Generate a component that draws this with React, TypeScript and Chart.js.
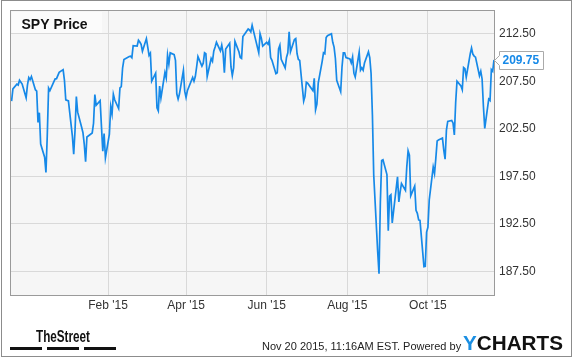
import React, { useEffect, useRef } from "react";
import { Chart, registerables } from "chart.js";

Chart.register(...registerables);

// ---- data ----
const dates = [
  "2014-11-20","2014-11-21","2014-11-24","2014-11-25","2014-11-26","2014-11-28",
  "2014-12-01","2014-12-02","2014-12-03","2014-12-04","2014-12-05","2014-12-08","2014-12-09","2014-12-10","2014-12-11","2014-12-12","2014-12-15","2014-12-16","2014-12-17","2014-12-18","2014-12-19","2014-12-22","2014-12-23","2014-12-24","2014-12-26","2014-12-29","2014-12-30","2014-12-31",
  "2015-01-02","2015-01-05","2015-01-06","2015-01-07","2015-01-08","2015-01-09","2015-01-12","2015-01-13","2015-01-14","2015-01-15","2015-01-16","2015-01-20","2015-01-21","2015-01-22","2015-01-23","2015-01-26","2015-01-27","2015-01-28","2015-01-29","2015-01-30",
  "2015-02-02","2015-02-03","2015-02-04","2015-02-05","2015-02-06","2015-02-09","2015-02-10","2015-02-11","2015-02-12","2015-02-13","2015-02-17","2015-02-18","2015-02-19","2015-02-20","2015-02-23","2015-02-24","2015-02-25","2015-02-26","2015-02-27",
  "2015-03-02","2015-03-03","2015-03-04","2015-03-05","2015-03-06","2015-03-09","2015-03-10","2015-03-11","2015-03-12","2015-03-13","2015-03-16","2015-03-17","2015-03-18","2015-03-19","2015-03-20","2015-03-23","2015-03-24","2015-03-25","2015-03-26","2015-03-27","2015-03-30","2015-03-31",
  "2015-04-01","2015-04-02","2015-04-06","2015-04-07","2015-04-08","2015-04-09","2015-04-10","2015-04-13","2015-04-14","2015-04-15","2015-04-16","2015-04-17","2015-04-20","2015-04-21","2015-04-22","2015-04-23","2015-04-24","2015-04-27","2015-04-28","2015-04-29","2015-04-30",
  "2015-05-01","2015-05-04","2015-05-05","2015-05-06","2015-05-07","2015-05-08","2015-05-11","2015-05-12","2015-05-13","2015-05-14","2015-05-15","2015-05-18","2015-05-19","2015-05-20","2015-05-21","2015-05-22","2015-05-26","2015-05-27","2015-05-28","2015-05-29",
  "2015-06-01","2015-06-02","2015-06-03","2015-06-04","2015-06-05","2015-06-08","2015-06-09","2015-06-10","2015-06-11","2015-06-12","2015-06-15","2015-06-16","2015-06-17","2015-06-18","2015-06-19","2015-06-22","2015-06-23","2015-06-24","2015-06-25","2015-06-26","2015-06-29","2015-06-30",
  "2015-07-01","2015-07-02","2015-07-06","2015-07-07","2015-07-08","2015-07-09","2015-07-10","2015-07-13","2015-07-14","2015-07-15","2015-07-16","2015-07-17","2015-07-20","2015-07-21","2015-07-22","2015-07-23","2015-07-24","2015-07-27","2015-07-28","2015-07-29","2015-07-30","2015-07-31",
  "2015-08-03","2015-08-04","2015-08-05","2015-08-06","2015-08-07","2015-08-10","2015-08-11","2015-08-12","2015-08-13","2015-08-14","2015-08-17","2015-08-18","2015-08-19","2015-08-20","2015-08-21","2015-08-24","2015-08-25","2015-08-26","2015-08-27","2015-08-28","2015-08-31",
  "2015-09-01","2015-09-02","2015-09-03","2015-09-04","2015-09-08","2015-09-09","2015-09-10","2015-09-11","2015-09-14","2015-09-15","2015-09-16","2015-09-17","2015-09-18","2015-09-21","2015-09-22","2015-09-23","2015-09-24","2015-09-25","2015-09-28","2015-09-29","2015-09-30",
  "2015-10-01","2015-10-02","2015-10-05","2015-10-06","2015-10-07","2015-10-08","2015-10-09","2015-10-12","2015-10-13","2015-10-14","2015-10-15","2015-10-16","2015-10-19","2015-10-20","2015-10-21","2015-10-22","2015-10-23","2015-10-26","2015-10-27","2015-10-28","2015-10-29","2015-10-30",
  "2015-11-02","2015-11-03","2015-11-04","2015-11-05","2015-11-06","2015-11-09","2015-11-10","2015-11-11","2015-11-12","2015-11-13","2015-11-16","2015-11-17","2015-11-18","2015-11-19","2015-11-20",
];

const prices = [
  205.4, 206.7, 207.2, 207.1, 207.6, 207.2,
  205.76, 207.09, 207.89, 207.66, 208.0, 206.61, 206.47, 203.16, 204.19, 200.89, 199.51, 197.91, 201.79, 206.78, 206.52, 207.47, 207.75, 207.77, 208.44, 208.72, 207.6, 205.54,
  205.43, 201.72, 199.82, 202.31, 205.9, 204.25, 202.65, 202.08, 200.86, 199.02, 201.63, 202.06, 203.08, 206.1, 204.97, 205.45, 202.74, 200.14, 201.99, 199.45,
  201.92, 204.84, 204.06, 206.12, 205.55, 204.63, 206.81, 206.93, 208.92, 209.78, 210.11, 210.13, 209.98, 211.24, 211.21, 211.81, 211.63, 211.38, 210.66,
  211.99, 211.12, 210.23, 210.46, 207.5, 208.36, 204.7, 204.38, 207.0, 205.74, 208.42, 207.84, 210.25, 209.29, 210.5, 210.3, 209.7, 206.18, 205.62, 206.15, 208.64, 206.46,
  205.8, 206.5, 207.9, 207.5, 208.0, 209.0, 210.1, 209.1, 209.4, 210.5, 210.4, 208.0, 209.9, 209.6, 210.7, 211.1, 211.6, 210.7, 211.3, 210.5, 208.4,
  210.9, 211.5, 209.0, 208.1, 208.9, 211.7, 210.6, 210.0, 209.9, 212.2, 212.4, 213.0, 212.9, 212.7, 213.4, 212.8, 210.5, 212.5, 212.0, 211.2,
  211.6, 211.4, 211.8, 210.0, 209.7, 208.3, 208.4, 210.9, 211.3, 209.8, 208.9, 210.0, 210.5, 212.7, 210.6, 211.9, 212.0, 210.4, 209.8, 209.7, 205.4, 205.9,
  207.4, 207.3, 206.5, 207.8, 204.5, 205.1, 207.3, 209.6, 210.5, 210.4, 212.1, 212.3, 212.5, 211.6, 211.1, 209.9, 207.6, 206.4, 209.0, 210.5, 210.5, 210.0,
  209.84, 209.43, 210.04, 208.35, 207.95, 210.57, 208.67, 208.92, 208.66, 209.42, 210.59, 209.98, 208.32, 203.97, 197.63, 189.55, 187.23, 194.68, 199.16, 199.24, 197.67,
  191.77, 195.41, 195.55, 192.59, 197.43, 194.79, 195.85, 196.74, 196.01, 198.46, 200.18, 199.73, 195.45, 196.46, 193.91, 193.6, 192.9, 192.85, 187.98, 188.01, 191.63,
  192.13, 195.0, 198.47, 197.79, 199.41, 201.21, 201.33, 201.52, 200.25, 199.29, 202.35, 203.27, 203.37, 203.11, 201.85, 205.26, 207.51, 207.0, 206.6, 208.95, 208.83, 207.93,
  210.39, 211.0, 210.36, 210.15, 210.04, 208.08, 208.56, 207.74, 204.84, 202.54, 205.62, 205.47, 208.73, 208.55, 209.75,
];

const yTicks = [187.5, 192.5, 197.5, 202.5, 207.5, 212.5];
const xTickDates = ["2015-02-01", "2015-04-01", "2015-06-01", "2015-08-01", "2015-10-01"];
const xTickLabels = ["Feb '15", "Apr '15", "Jun '15", "Aug '15", "Oct '15"];
const titleText = "SPY Price";
const lastPriceText = "209.75";
const stampText = "Nov 20 2015, 11:16AM EST. Powered by";
const brandLeft = "TheStreet";
const brandY = "Y";
const brandRest = "CHARTS";

// ---- helpers ----
const BASE = Date.UTC(2014, 10, 20);
const dayOf = (s: string) => {
  const [y, m, d] = s.split("-").map(Number);
  return (Date.UTC(y, m - 1, d) - BASE) / 86400000;
};

const FONT = "'Liberation Sans', Arial, Helvetica, sans-serif";
const BLUE = "#1689e8";
const W = 575;
const H = 358;

const decorPlugin = {
  id: "decor",
  beforeDraw(chart: any) {
    const { ctx, chartArea: a } = chart;
    ctx.save();
    ctx.fillStyle = "#ffffff";
    ctx.fillRect(0, 0, W, H);
    ctx.fillStyle = "#f6f6f6";
    ctx.fillRect(a.left, a.top, a.right - a.left, a.bottom - a.top);
    ctx.restore();
  },
  afterDraw(chart: any) {
    const { ctx, chartArea: a } = chart;
    ctx.save();
    // plot frame
    ctx.strokeStyle = "#9a9a9a";
    ctx.lineWidth = 1;
    ctx.strokeRect(a.left + 0.5, a.top + 0.5, a.right - a.left, a.bottom - a.top);

    // title box
    ctx.fillStyle = "#fbfbfb";
    ctx.fillRect(a.left + 2, a.top + 2, 90, 21);
    ctx.fillStyle = "#111111";
    ctx.font = `bold 14px ${FONT}`;
    ctx.textBaseline = "alphabetic";
    ctx.textAlign = "left";
    ctx.fillText(titleText, 21.5, 28.5);

    // last price tag
    const ys = chart.scales.y;
    const y = Math.round(ys.getPixelForValue(prices[prices.length - 1])) + 0.5;
    const r = a.right;
    ctx.beginPath();
    ctx.moveTo(r + 0.5, y);
    ctx.lineTo(r + 5.5, y - 5);
    ctx.lineTo(r + 5.5, y - 9);
    ctx.lineTo(r + 49.5, y - 9);
    ctx.lineTo(r + 49.5, y + 9);
    ctx.lineTo(r + 5.5, y + 9);
    ctx.lineTo(r + 5.5, y + 5);
    ctx.closePath();
    ctx.fillStyle = "#ffffff";
    ctx.fill();
    ctx.strokeStyle = "#aaaaaa";
    ctx.stroke();
    ctx.fillStyle = BLUE;
    ctx.font = `bold 12px ${FONT}`;
    ctx.textBaseline = "middle";
    ctx.fillText(lastPriceText, r + 8.5, y + 0.5);

    // footer: TheStreet
    ctx.textBaseline = "alphabetic";
    ctx.fillStyle = "#111111";
    ctx.font = `bold 16px ${FONT}`;
    const tw = ctx.measureText(brandLeft).width;
    ctx.save();
    ctx.translate(36, 342);
    ctx.scale(54 / tw, 1);
    ctx.fillText(brandLeft, 0, 0);
    ctx.restore();
    ctx.fillRect(10, 347, 32, 3);
    ctx.fillRect(47, 347, 32, 3);
    ctx.fillRect(84, 347, 32, 3);

    // footer: timestamp
    ctx.fillStyle = "#222222";
    ctx.font = `11px ${FONT}`;
    ctx.fillText(stampText, 262, 349.5);

    // footer: YCHARTS
    ctx.font = `bold 20px ${FONT}`;
    const w1 = ctx.measureText(brandY).width;
    const w2 = ctx.measureText(brandRest).width;
    const sx = 100 / (w1 + w2);
    ctx.save();
    ctx.translate(463, 349.5);
    ctx.scale(sx, 1);
    ctx.fillStyle = "#1a8fe3";
    ctx.fillText(brandY, 0, 0);
    ctx.fillStyle = "#111111";
    ctx.fillText(brandRest, w1, 0);
    ctx.restore();

    // outer border
    ctx.strokeStyle = "#8c8c8c";
    ctx.strokeRect(1.5, 0.5, 570, 356);
    ctx.restore();
  },
};

export default function App() {
  const ref = useRef<HTMLCanvasElement | null>(null);

  useEffect(() => {
    if (!ref.current) return;
    const tickFont = { family: FONT, size: 12 };
    const chart = new Chart(ref.current, {
      type: "line",
      data: {
        datasets: [
          {
            data: dates.map((d, i) => ({ x: dayOf(d), y: prices[i] })),
            borderColor: BLUE,
            borderWidth: 1.7,
            pointRadius: 0,
            tension: 0,
            fill: false,
          },
        ],
      },
      options: {
        animation: false,
        responsive: false,
        devicePixelRatio: 1,
        layout: { padding: { left: 10, top: 10, right: 0, bottom: 0 } },
        plugins: {
          legend: { display: false },
          tooltip: { enabled: false },
          title: { display: false },
        },
        scales: {
          x: {
            type: "linear",
            position: "bottom",
            min: -1.2,
            max: 365,
            afterBuildTicks: (s: any) => {
              s.ticks = xTickDates.map((d) => ({ value: dayOf(d) }));
            },
            afterFit: (s: any) => {
              s.height = 63;
              s.paddingLeft = 0;
              s.paddingRight = 0;
            },
            ticks: {
              autoSkip: false,
              maxRotation: 0,
              padding: 3,
              color: "#333333",
              font: tickFont,
              callback: (_v: any, i: number) => xTickLabels[i],
            },
            grid: { color: "#d9d9d9", lineWidth: 1, drawTicks: false },
            border: { display: false },
          },
          y: {
            type: "linear",
            position: "right",
            min: 185,
            max: 215,
            afterBuildTicks: (s: any) => {
              s.ticks = yTicks.map((v) => ({ value: v }));
            },
            afterFit: (s: any) => {
              s.width = 81;
              s.paddingTop = 0;
              s.paddingBottom = 0;
            },
            ticks: {
              padding: 5,
              color: "#333333",
              font: tickFont,
              callback: (v: any) => Number(v).toFixed(2),
            },
            grid: { color: "#d9d9d9", lineWidth: 1, drawTicks: false },
            border: { display: false },
          },
        },
      } as any,
      plugins: [decorPlugin],
    });
    return () => chart.destroy();
  }, []);

  return (
    <div style={{ position: "fixed", left: 0, top: 0, width: W, height: H, background: "#fff" }}>
      <canvas ref={ref} width={W} height={H} style={{ display: "block", width: W, height: H }} />
    </div>
  );
}
